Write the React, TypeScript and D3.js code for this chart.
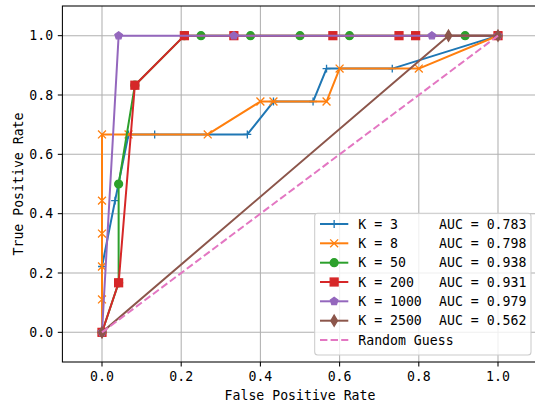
import React from 'react';
import * as d3 from 'd3';

const W = 535;
const H = 407;

// Data
const k3X = [0, 0, 0.033, 0.067, 0.133, 0.367, 0.433, 0.533, 0.567, 0.733, 1];
const k3Y = [0, 0.222, 0.444, 0.667, 0.667, 0.667, 0.778, 0.778, 0.889, 0.889, 1];
const k8X = [0, 0, 0, 0, 0, 0, 0.067, 0.267, 0.4, 0.433, 0.567, 0.6, 0.8, 1];
const k8Y = [0, 0.111, 0.222, 0.333, 0.444, 0.667, 0.667, 0.667, 0.778, 0.778, 0.778, 0.889, 0.889, 1];
const k50X = [0, 0.042, 0.042, 0.083, 0.208, 0.25, 0.375, 0.5, 0.625, 0.917, 1];
const k50Y = [0, 0.167, 0.5, 0.833, 1, 1, 1, 1, 1, 1, 1];
const k200X = [0, 0.042, 0.083, 0.208, 0.333, 0.583, 0.75, 0.792, 1];
const k200Y = [0, 0.167, 0.833, 1, 1, 1, 1, 1, 1];
const k1000X = [0, 0.042, 0.333, 0.833, 1];
const k1000Y = [0, 1, 1, 1, 1];
const k2500X = [0, 0.875, 1];
const k2500Y = [0, 1, 1];
const randomX = [0, 1];
const randomY = [0, 1];

const kLabels = ['K = 3', 'K = 8', 'K = 50', 'K = 200', 'K = 1000', 'K = 2500'];
const aucLabels = ['AUC = 0.783', 'AUC = 0.798', 'AUC = 0.938', 'AUC = 0.931', 'AUC = 0.979', 'AUC = 0.562'];
const colors = ['#1f77b4', '#ff7f0e', '#2ca02c', '#d62728', '#9467bd', '#8c564b'];
const markers = ['plus', 'x', 'circle', 'square', 'pentagon', 'thindiamond'];
const xsList = [k3X, k8X, k50X, k200X, k1000X, k2500X];
const ysList = [k3Y, k8Y, k50Y, k200Y, k1000Y, k2500Y];
const ticks = [0, 0.2, 0.4, 0.6, 0.8, 1.0];

const FONT = '"DejaVu Sans Mono", monospace';
const FS = 13.2;

const MS = 7.9; // marker size px

function Marker({ kind, color, cx, cy }: { kind: string; color: string; cx: number; cy: number }) {
  const h = MS / 2;
  const sw = 1.32;
  switch (kind) {
    case 'plus':
      return <path d={`M${cx - h},${cy}H${cx + h}M${cx},${cy - h}V${cy + h}`} stroke={color} strokeWidth={sw} fill="none" />;
    case 'x':
      return <path d={`M${cx - h},${cy - h}L${cx + h},${cy + h}M${cx - h},${cy + h}L${cx + h},${cy - h}`} stroke={color} strokeWidth={sw} fill="none" />;
    case 'circle':
      return <circle cx={cx} cy={cy} r={h} fill={color} stroke={color} strokeWidth={sw} />;
    case 'square':
      return <rect x={cx - h} y={cy - h} width={MS} height={MS} fill={color} stroke={color} strokeWidth={sw} />;
    case 'pentagon': {
      const pts = d3.range(5).map((i) => {
        const a = (-90 + 72 * i) * Math.PI / 180;
        return `${cx + h * Math.cos(a)},${cy + h * Math.sin(a)}`;
      }).join(' ');
      return <polygon points={pts} fill={color} stroke={color} strokeWidth={sw} />;
    }
    case 'thindiamond': {
      const vy = MS * 0.707;
      const vx = vy * 0.6;
      return <polygon points={`${cx},${cy - vy} ${cx + vx},${cy} ${cx},${cy + vy} ${cx - vx},${cy}`} fill={color} stroke={color} strokeWidth={sw} />;
    }
    default:
      return null;
  }
}

export default function App() {
  const x = d3.scaleLinear().domain([-0.1, 1.1]).range([62.4, 537.6]);
  const y = d3.scaleLinear().domain([-0.1, 1.1]).range([362, 6]);
  const line = d3.line<[number, number]>().x((d) => x(d[0])).y((d) => y(d[1]));
  const fmt = d3.format('.1f');

  const left = x(-0.1), right = x(1.1), top = y(1.1), bottom = y(-0.1);

  const legX = 314.7, legY = 213.3, legW = 216.3, legH = 141.7;
  const rowY = [224, 243.3, 262.7, 282, 301.3, 320.7, 340];
  const hx0 = 320, hx1 = 348.3;

  return (
    <svg width={W} height={H} style={{ position: 'absolute', left: 0, top: 0, background: '#fff' }} fontFamily={FONT}>
      <rect x={0} y={0} width={W} height={H} fill="#fff" />
      <defs>
        <clipPath id="plotclip">
          <rect x={left} y={top} width={right - left} height={bottom - top} />
        </clipPath>
      </defs>
      {/* grid */}
      {ticks.map((t) => (
        <line key={'gx' + t} x1={x(t)} x2={x(t)} y1={top} y2={bottom} stroke="#b0b0b0" strokeWidth={1.05} />
      ))}
      {ticks.map((t) => (
        <line key={'gy' + t} x1={left} x2={right} y1={y(t)} y2={y(t)} stroke="#b0b0b0" strokeWidth={1.05} />
      ))}
      {/* series */}
      <g clipPath="url(#plotclip)">
        {xsList.map((xs, i) => {
          const pts: [number, number][] = xs.map((v, j) => [v, ysList[i][j]]);
          return (
            <g key={'s' + i}>
              <path d={line(pts) || ''} fill="none" stroke={colors[i]} strokeWidth={2} strokeLinejoin="round" strokeLinecap="square" />
              {pts.map((p, j) => (
                <Marker key={j} kind={markers[i]} color={colors[i]} cx={x(p[0])} cy={y(p[1])} />
              ))}
            </g>
          );
        })}
        <path
          d={line(randomX.map((v, j) => [v, randomY[j]] as [number, number])) || ''}
          fill="none"
          stroke="#e377c2"
          strokeWidth={2}
          strokeDasharray="7.4,3.2"
        />
      </g>
      {/* spines */}
      <rect x={left} y={top} width={right - left} height={bottom - top} fill="none" stroke="#000" strokeWidth={1.05} />
      {/* ticks */}
      {ticks.map((t) => (
        <g key={'tx' + t}>
          <line x1={x(t)} x2={x(t)} y1={bottom} y2={bottom + 4.6} stroke="#000" strokeWidth={1.05} />
          <text x={x(t)} y={bottom + 9.2} fontSize={FS} textAnchor="middle" dominantBaseline="hanging" fill="#000">{fmt(t)}</text>
        </g>
      ))}
      {ticks.map((t) => (
        <g key={'ty' + t}>
          <line x1={left - 4.6} x2={left} y1={y(t)} y2={y(t)} stroke="#000" strokeWidth={1.05} />
          <text x={left - 9.2} y={y(t)} fontSize={FS} textAnchor="end" dominantBaseline="central" fill="#000">{fmt(t)}</text>
        </g>
      ))}
      <text x={(x(0) + x(1)) / 2 + 0} y={395} fontSize={FS} textAnchor="middle" dominantBaseline="central" fill="#000">False Positive Rate</text>
      <text transform={`translate(18,${(top + bottom) / 2}) rotate(-90)`} fontSize={FS} textAnchor="middle" dominantBaseline="central" fill="#000">True Positive Rate</text>
      {/* legend */}
      <rect x={legX} y={legY} width={legW} height={legH} rx={3} ry={3} fill="#fff" fillOpacity={0.8} stroke="#cccccc" strokeWidth={1.05} />
      {kLabels.map((lab, i) => (
        <g key={'l' + i}>
          <line x1={hx0} x2={hx1} y1={rowY[i]} y2={rowY[i]} stroke={colors[i]} strokeWidth={2} />
          <Marker kind={markers[i]} color={colors[i]} cx={(hx0 + hx1) / 2} cy={rowY[i]} />
          <text x={358.3} y={rowY[i]} fontSize={FS} dominantBaseline="central" fill="#000">{lab}</text>
          <text x={439} y={rowY[i]} fontSize={FS} dominantBaseline="central" fill="#000">{aucLabels[i]}</text>
        </g>
      ))}
      <line x1={hx0} x2={hx1} y1={rowY[6]} y2={rowY[6]} stroke="#e377c2" strokeWidth={2} strokeDasharray="7.4,3.2" />
      <text x={358.3} y={rowY[6]} fontSize={FS} dominantBaseline="central" fill="#000">Random Guess</text>
    </svg>
  );
}
